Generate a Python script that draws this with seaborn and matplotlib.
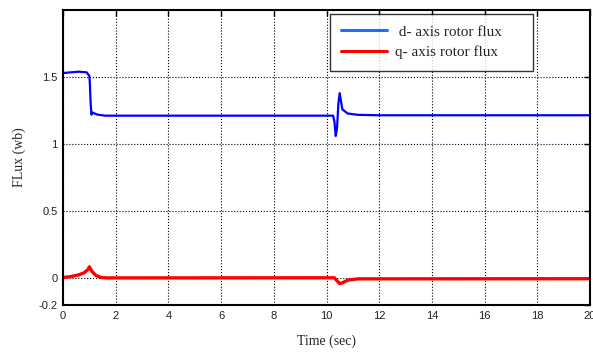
import matplotlib
matplotlib.use("Agg")
import matplotlib.pyplot as plt
import seaborn as sns
import pandas as pd

# d-axis rotor flux (time in s, flux in Wb)
t_d = [0, 0.3, 0.6, 0.9, 0.95, 1.0, 1.02, 1.05, 1.08, 1.12, 1.3, 1.6, 10.25, 10.3, 10.35, 10.4,
       10.45, 10.5, 10.6, 10.8, 11.2, 12, 20]
flux_d = [1.53, 1.535, 1.54, 1.535, 1.52, 1.51, 1.45, 1.30, 1.22, 1.235, 1.22, 1.212, 1.212, 1.17,
          1.06, 1.12, 1.3, 1.38, 1.26, 1.228, 1.218, 1.215, 1.215]

# q-axis rotor flux
t_q = [0, 0.3, 0.6, 0.8, 0.95, 1.0, 1.1, 1.25, 1.45, 1.7, 10.3, 10.4, 10.5, 10.6, 10.8, 11.2, 20]
flux_q = [0.005, 0.012, 0.025, 0.04, 0.065, 0.085, 0.05, 0.02, 0.005, 0.002, 0.003, -0.02, -0.04,
          -0.035, -0.015, -0.005, -0.004]

x_ticks = [0, 2, 4, 6, 8, 10, 12, 14, 16, 18, 20]
y_ticks = [-0.2, 0, 0.5, 1, 1.5]
y_tick_labels = ["-0.2", "0", "0.5", "1", "1.5"]
labels = [" d- axis rotor flux", "q- axis rotor flux"]

sns.set_style("white")
serif = "Liberation Serif"
sans = "Liberation Sans"

fig = plt.figure(figsize=(5.93, 3.52), dpi=100)
ax = fig.add_axes([63 / 593, (352 - 305) / 352, (590 - 63) / 593, (305 - 10) / 352])

df_d = pd.DataFrame({"t": t_d, "v": flux_d})
df_q = pd.DataFrame({"t": t_q, "v": flux_q})
sns.lineplot(data=df_d, x="t", y="v", ax=ax, color="#0000ff", linewidth=1.6, label=labels[0])
sns.lineplot(data=df_q, x="t", y="v", ax=ax, color="#ff0000", linewidth=2.4, label=labels[1])

ax.set_xlim(0, 20)
ax.set_ylim(-0.2, 2.0)
ax.set_xticks(x_ticks)
ax.set_xticklabels([str(v) for v in x_ticks], fontfamily=sans, fontsize=8)
ax.set_yticks(y_ticks)
ax.set_yticklabels(y_tick_labels, fontfamily=sans, fontsize=8)
ax.tick_params(direction="in", length=4, width=1, top=True, right=True, colors="black",
               labelcolor="#222222", pad=4)
ax.grid(True, color="black", linestyle=":", linewidth=0.8)
for s in ax.spines.values():
    s.set_color("black")
    s.set_linewidth(1.5)

ax.set_xlabel("Time (sec)", fontfamily=serif, fontsize=10, labelpad=10)
ax.set_ylabel("FLux (wb)", fontfamily=serif, fontsize=10, labelpad=9)

x0 = (330 - 63) / 527
x1 = (533 - 63) / 527
leg = ax.legend(loc="upper left", bbox_to_anchor=(x0, 0.988, x1 - x0, 0), mode="expand",
                frameon=True, fancybox=False,
                prop={"family": serif, "size": 11}, handlelength=3.0, borderpad=0.75,
                labelspacing=0.45, handletextpad=0.5, borderaxespad=0)
leg.get_frame().set_edgecolor("black")
leg.get_frame().set_linewidth(1.0)
leg.get_lines()[0].set_color("#1a6fff")
for ln in leg.get_lines():
    ln.set_linewidth(2.2)

fig.savefig("out.png", dpi=100)
